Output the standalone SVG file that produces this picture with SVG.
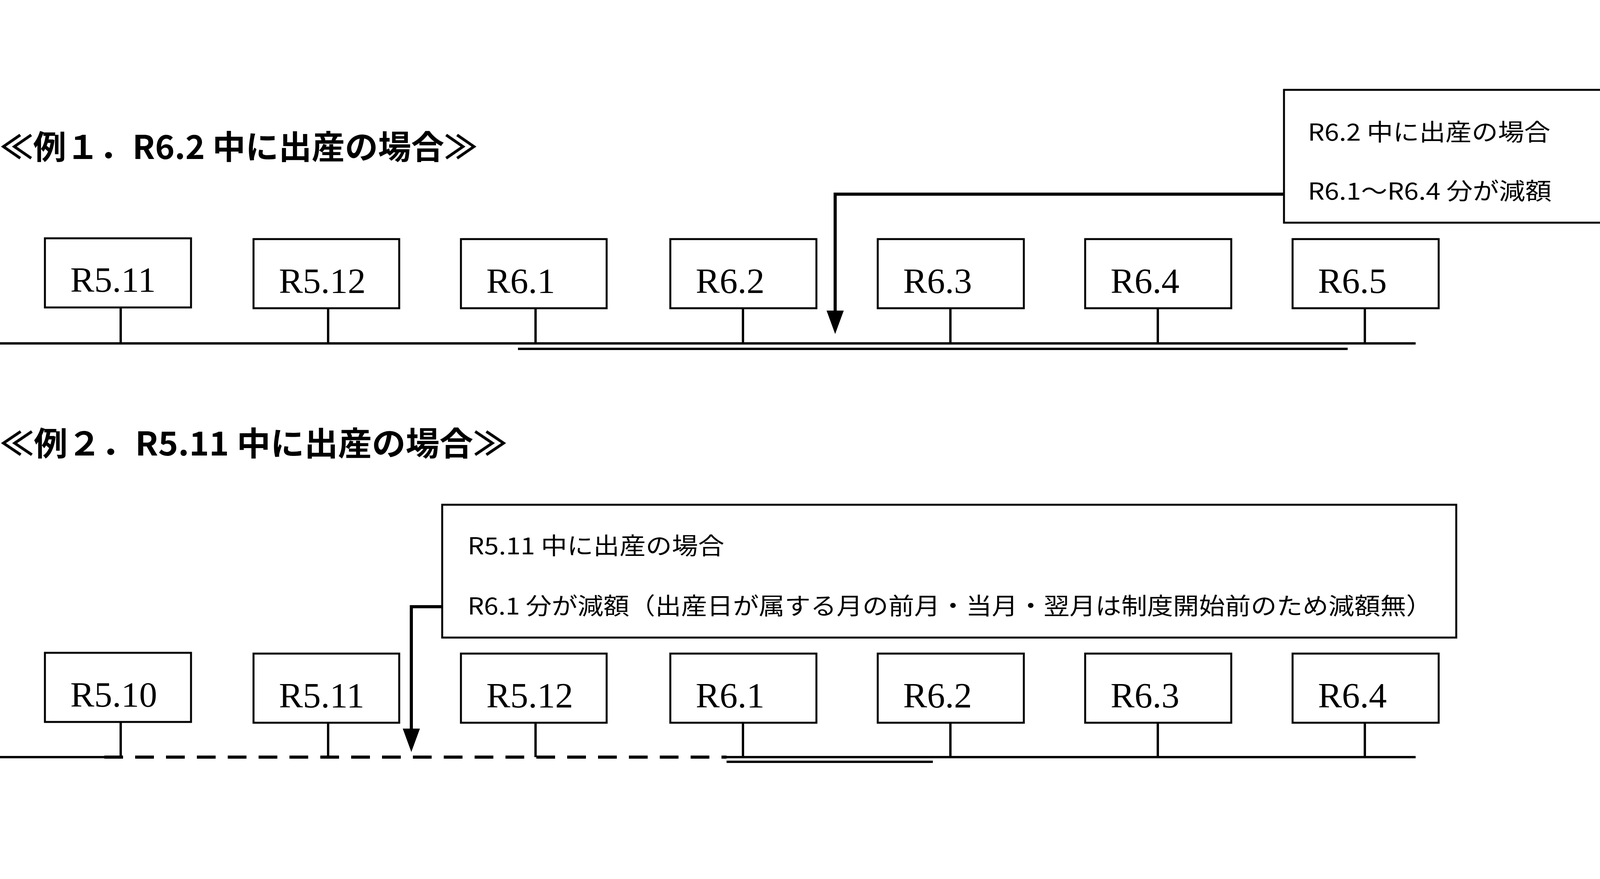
<svg xmlns="http://www.w3.org/2000/svg" width="4360" height="2250" viewBox="0 0 4360 2250">
<style>
.bg{fill:#fff}
.box{fill:#fff;stroke:#000;stroke-width:5}
.lbl{font-family:"Liberation Serif",serif;font-size:92px;fill:#000}
.ttl{font-family:"Noto Sans CJK JP",sans-serif;font-size:84px;font-weight:bold;fill:#000}
.cap{font-family:"Noto Sans CJK JP",sans-serif;font-size:60px;fill:#000}
.ln{stroke:#000;stroke-width:6;fill:none}
.th{stroke:#000;stroke-width:8;fill:none}
.ds{stroke:#000;stroke-width:8;fill:none;stroke-dasharray:48 31}
.hd{fill:#000}
</style>
<rect class="bg" x="0" y="0" width="4360" height="2250"/>
<text class="ttl" x="0" y="407" textLength="1222" lengthAdjust="spacingAndGlyphs">≪例１．R6.2 中に出産の場合≫</text>
<text class="ttl" x="0" y="1166" textLength="1298" lengthAdjust="spacingAndGlyphs">≪例２．R5.11 中に出産の場合≫</text>
<g id="connectors">
<path class="ln" d="M0,879 H3624"/>
<path class="ln" d="M1326,893 H3450"/>
<path class="ln" d="M309,787V879 M840,787V879 M1371,787V879 M1902,787V879 M2433,787V879 M2964,787V879 M3494,787V879"/>
<path class="th" d="M3287,497 H2138 V800"/>
<path class="hd" d="M2116,795 L2160,795 L2138,855 Z"/>
<path class="ln" d="M0,1938 H267 M1860,1938 H3624"/>
<path class="ds" d="M267,1938 H1860"/>
<path class="ln" d="M1860,1950 H2388"/>
<path class="ln" d="M309,1848V1938 M840,1848V1938 M1371,1848V1938 M1902,1848V1938 M2433,1848V1938 M2964,1848V1938 M3494,1848V1938"/>
<path class="th" d="M1132,1553 H1053 V1870"/>
<path class="hd" d="M1031,1865 L1075,1865 L1053,1925 Z"/>
</g>
<g id="c1"><rect class="box" x="3287" y="230" width="1042" height="340"/>
<text class="cap" x="3348" y="360" textLength="621" lengthAdjust="spacingAndGlyphs">R6.2 中に出産の場合</text>
<text class="cap" x="3348" y="511" textLength="624" lengthAdjust="spacingAndGlyphs">R6.1～R6.4 分が減額</text></g>
<g id="c2"><rect class="box" x="1132" y="1292" width="2596" height="340"/>
<text class="cap" x="1197" y="1419" textLength="657" lengthAdjust="spacingAndGlyphs">R5.11 中に出産の場合</text>
<text class="cap" x="1197" y="1573" textLength="2469" lengthAdjust="spacingAndGlyphs">R6.1 分が減額（出産日が属する月の前月・当月・翌月は制度開始前のため減額無）</text></g>
<g id="a1"><rect class="box" x="115" y="610" width="374" height="177"/><text class="lbl" x="180" y="747">R5.11</text></g>
<g id="a2"><rect class="box" x="649" y="612" width="373" height="177"/><text class="lbl" x="714" y="750">R5.12</text></g>
<g id="a3"><rect class="box" x="1180" y="612" width="373" height="177"/><text class="lbl" x="1245" y="750">R6.1</text></g>
<g id="a4"><rect class="box" x="1716" y="612" width="374" height="177"/><text class="lbl" x="1781" y="750">R6.2</text></g>
<g id="a5"><rect class="box" x="2247" y="612" width="374" height="177"/><text class="lbl" x="2312" y="750">R6.3</text></g>
<g id="a6"><rect class="box" x="2778" y="612" width="374" height="177"/><text class="lbl" x="2843" y="750">R6.4</text></g>
<g id="a7"><rect class="box" x="3309" y="612" width="374" height="177"/><text class="lbl" x="3374" y="750">R6.5</text></g>
<g id="b1"><rect class="box" x="115" y="1671" width="374" height="177"/><text class="lbl" x="180" y="1809">R5.10</text></g>
<g id="b2"><rect class="box" x="649" y="1673" width="373" height="177"/><text class="lbl" x="714" y="1811">R5.11</text></g>
<g id="b3"><rect class="box" x="1180" y="1673" width="373" height="177"/><text class="lbl" x="1245" y="1811">R5.12</text></g>
<g id="b4"><rect class="box" x="1716" y="1673" width="374" height="177"/><text class="lbl" x="1781" y="1811">R6.1</text></g>
<g id="b5"><rect class="box" x="2247" y="1673" width="374" height="177"/><text class="lbl" x="2312" y="1811">R6.2</text></g>
<g id="b6"><rect class="box" x="2778" y="1673" width="374" height="177"/><text class="lbl" x="2843" y="1811">R6.3</text></g>
<g id="b7"><rect class="box" x="3309" y="1673" width="374" height="177"/><text class="lbl" x="3374" y="1811">R6.4</text></g>
</svg>
